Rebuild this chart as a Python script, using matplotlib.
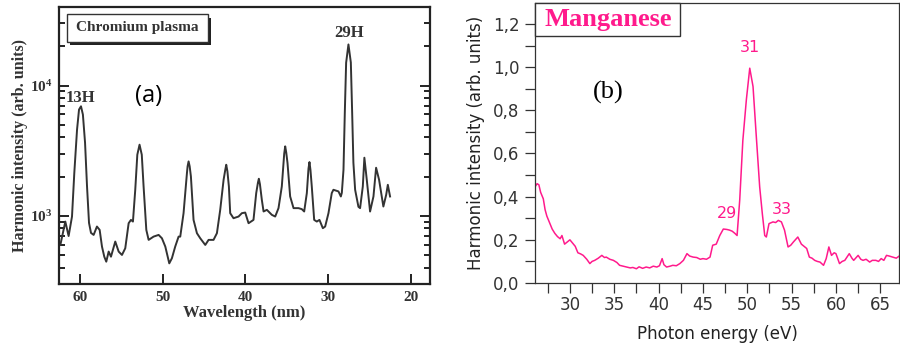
import matplotlib
matplotlib.use('Agg')
import matplotlib.pyplot as plt
from matplotlib.patches import Rectangle
from matplotlib.ticker import LogLocator, MultipleLocator, NullFormatter

plt.rcParams['mathtext.default'] = 'regular'

# (a) chromium plasma harmonic spectrum, log scale
wavelength_a = [62.41, 61.81, 61.41, 61.00, 60.72, 60.39, 60.15, 59.91, 59.68, 59.42,
                59.18, 58.94, 58.70, 58.38, 57.98, 57.65, 57.37, 57.09, 56.85, 56.56,
                56.28, 55.76, 55.35, 54.95, 54.55, 54.14, 53.86, 53.62, 53.34, 53.09,
                52.82, 52.55, 52.33, 52.00, 51.72, 51.12, 50.51, 50.11, 49.70, 49.22,
                48.90, 48.50, 48.09, 47.89, 47.49, 47.08, 47.00, 46.88, 46.75, 46.60,
                46.28, 45.87, 45.47, 44.86, 44.46, 43.86, 43.45, 43.05, 42.64, 42.44,
                42.32, 42.18, 42.00, 41.84, 41.44, 40.83, 40.43, 40.02, 39.62, 39.02,
                38.69, 38.48, 38.37, 38.24, 38.01, 37.80, 37.40, 36.80, 36.39, 35.99,
                35.59, 35.30, 35.18, 35.05, 34.90, 34.58, 34.17, 33.57, 33.17, 32.88,
                32.56, 32.36, 32.24, 32.12, 31.96, 31.67, 31.35, 31.03, 30.62, 30.34,
                29.94, 29.54, 29.34, 28.73, 28.44, 28.32, 28.12, 27.96, 27.80, 27.52,
                27.23, 27.07, 26.92, 26.71, 26.31, 26.11, 25.78, 25.59, 25.30, 24.90,
                24.49, 24.17, 23.81, 23.29, 22.95, 22.75, 22.48]
intensity_a = [598, 904, 700, 988, 2141, 4586, 6536, 6928, 5983, 3643,
               1680, 883, 740, 714, 828, 780, 581, 486, 445, 532,
               486, 635, 532, 501, 564, 878, 931, 904, 1585, 2945,
               3516, 2945, 1680, 780, 654, 693, 714, 673, 581, 432,
               473, 581, 693, 693, 1048, 2128, 2400, 2617, 2400, 2007,
               931, 736, 673, 598, 654, 654, 736, 1112, 1892, 2250,
               2467, 2200, 1681, 1048, 959, 988, 1048, 1060, 878, 931,
               1494, 1800, 1926, 1750, 1328, 1080, 1112, 1018, 988, 1146,
               1681, 3000, 3415, 3050, 2542, 1409, 1146, 1146, 1126, 1080,
               1494, 2300, 2587, 2250, 1681, 931, 904, 931, 804, 828,
               1048, 1494, 1585, 1540, 1408, 1503, 2258, 6199, 14950, 20670,
               15030, 6199, 2557, 1585, 1173, 1146, 1681, 2793, 1892, 1079,
               1409, 2340, 1892, 1179, 1450, 1731, 1408]

# (b) manganese plasma harmonic spectrum, linear scale
energy_b = [26.06, 26.3, 26.5, 26.7, 27.0, 27.2, 27.4, 27.6, 27.75, 28.0,
            28.3, 28.6, 28.9, 29.1, 29.4, 29.7, 30.0, 30.3, 30.6, 30.9,
            31.2, 31.5, 31.9, 32.25, 32.5, 32.8, 33.2, 33.6, 33.9, 34.1,
            34.5, 34.9, 35.3, 35.6, 36.0, 36.4, 36.8, 37.1, 37.5, 37.8,
            38.2, 38.6, 39.0, 39.4, 39.8, 40.1, 40.4, 40.6, 40.9, 41.3,
            41.6, 42.0, 42.4, 42.8, 43.2, 43.5, 43.9, 44.3, 44.7, 45.0,
            45.4, 45.8, 46.1, 46.5, 46.9, 47.3, 47.7, 48.0, 48.3, 48.6,
            48.85, 49.15, 49.5, 49.9, 50.28, 50.65, 51.0, 51.4, 51.7, 51.97,
            52.15, 52.45, 52.9, 53.2, 53.5, 53.85, 54.2, 54.6, 54.9, 55.2,
            55.7, 56.1, 56.4, 56.7, 57.0, 57.3, 57.6, 57.9, 58.2, 58.6,
            58.9, 59.2, 59.5, 59.8, 60.0, 60.4, 60.7, 61.0, 61.5, 61.8,
            62.0, 62.5, 62.8, 63.05, 63.4, 63.8, 64.1, 64.5, 64.8, 65.1,
            65.4, 65.7, 66.0, 66.4, 66.8, 67.1]
intensity_b = [0.445, 0.46, 0.455, 0.42, 0.39, 0.34, 0.31, 0.29, 0.275, 0.25,
               0.23, 0.215, 0.205, 0.22, 0.18, 0.19, 0.20, 0.185, 0.17, 0.14,
               0.135, 0.128, 0.11, 0.09, 0.10, 0.105, 0.115, 0.128, 0.118, 0.12,
               0.11, 0.105, 0.095, 0.082, 0.078, 0.074, 0.07, 0.072, 0.066, 0.075,
               0.068, 0.074, 0.07, 0.078, 0.074, 0.08, 0.113, 0.085, 0.074, 0.078,
               0.082, 0.08, 0.09, 0.105, 0.136, 0.125, 0.12, 0.118, 0.11, 0.113,
               0.11, 0.12, 0.175, 0.18, 0.22, 0.25, 0.248, 0.245, 0.24, 0.23,
               0.22, 0.385, 0.66, 0.85, 0.995, 0.91, 0.69, 0.445, 0.32, 0.22,
               0.213, 0.275, 0.283, 0.28, 0.29, 0.283, 0.245, 0.167, 0.175, 0.19,
               0.213, 0.18, 0.17, 0.16, 0.12, 0.115, 0.105, 0.10, 0.097, 0.082,
               0.113, 0.167, 0.128, 0.14, 0.136, 0.09, 0.1, 0.105, 0.136, 0.115,
               0.105, 0.128, 0.11, 0.105, 0.11, 0.097, 0.105, 0.105, 0.1, 0.113,
               0.105, 0.128, 0.125, 0.12, 0.115, 0.124]

harm_labels_b = ['29', '31', '33']
harm_pos_b = [(47.7, 0.32), (50.3, 1.09), (53.9, 0.34)]

pink = '#ff1a8c'
serif = 'Liberation Serif'

fig = plt.figure(figsize=(9, 3.51), dpi=100)

# ---------- panel (a) ----------
ax1 = fig.add_axes([0.0656, 0.1909, 0.4122, 0.789])
ax1.plot(wavelength_a, intensity_a, color='#333333', lw=1.4)
ax1.set_yscale('log')
ax1.set_xlim(62.57, 17.64)
ax1.set_ylim(300, 40000)
ax1.set_xticks([60, 50, 40, 30, 20])
ax1.set_xticklabels(['60', '50', '40', '30', '20'])
ax1.set_yticks([1e3, 1e4])
ax1.set_yticklabels(['10$^3$', '10$^4$'])
ax1.yaxis.set_minor_locator(LogLocator(base=10, subs=range(2, 10)))
ax1.yaxis.set_minor_formatter(NullFormatter())
for s in ax1.spines.values():
    s.set_linewidth(1.6)
    s.set_color('#222222')
ax1.tick_params(which='both', direction='in', right=True, top=False, width=1.4, color='#222222')
ax1.tick_params(which='major', length=7, pad=5)
ax1.tick_params(which='minor', length=4)
for lab in ax1.get_xticklabels() + ax1.get_yticklabels():
    lab.set_fontfamily(serif)
    lab.set_fontweight('bold')
    lab.set_fontsize(11)
    lab.set_color('#333333')
ax1.set_xlabel('Wavelength (nm)', fontfamily=serif, fontweight='bold', fontsize=12,
               color='#333333', labelpad=1)
ax1.set_ylabel('Harmonic intensity (arb. units)', fontfamily=serif, fontweight='bold',
               fontsize=11.5, color='#333333', labelpad=1)

# title box with drop shadow
ax1.add_patch(Rectangle((0.030, 0.862), 0.38, 0.1, transform=ax1.transAxes,
                        facecolor='#222222', edgecolor='none', zorder=4))
ax1.add_patch(Rectangle((0.022, 0.875), 0.38, 0.1, transform=ax1.transAxes,
                        facecolor='white', edgecolor='#333333', lw=1.0, zorder=5))
ax1.text(0.212, 0.925, 'Chromium plasma', transform=ax1.transAxes, ha='center', va='center',
         fontfamily=serif, fontweight='bold', fontsize=11, color='#333333', zorder=6)

ax1.text(60.0, 6950, '13H', ha='center', va='bottom', fontfamily=serif, fontweight='bold',
         fontsize=12, color='#333333')
ax1.text(27.5, 22000, '29H', ha='center', va='bottom', fontfamily=serif, fontweight='bold',
         fontsize=12, color='#333333')
ax1.text(0.24, 0.68, '(a)', transform=ax1.transAxes, ha='center', va='center',
         fontfamily='Open Sans', fontsize=17, color='black')

# ---------- panel (b) ----------
ax2 = fig.add_axes([0.5944, 0.1937, 0.4044, 0.7978])
ax2.plot(energy_b, intensity_b, color=pink, lw=1.1)
ax2.set_xlim(26.06, 67.1)
ax2.set_ylim(0, 1.297)
ax2.xaxis.set_major_locator(MultipleLocator(5))
ax2.xaxis.set_minor_locator(MultipleLocator(2.5))
ax2.yaxis.set_major_locator(MultipleLocator(0.2))
ax2.yaxis.set_minor_locator(MultipleLocator(0.1))
ax2.set_yticks([0.0, 0.2, 0.4, 0.6, 0.8, 1.0, 1.2])
ax2.set_yticklabels(['0,0', '0,2', '0,4', '0,6', '0,8', '1,0', '1,2'])
for s in ax2.spines.values():
    s.set_linewidth(0.9)
    s.set_color('#333333')
ax2.tick_params(which='both', direction='out', color='#333333', width=0.9,
                labelsize=12, labelcolor='#333333')
ax2.tick_params(which='major', length=7, pad=2)
ax2.tick_params(axis='y', which='major', pad=4)
ax2.tick_params(which='minor', length=7)
ax2.set_xlabel('Photon energy (eV)', fontsize=12, color='#222222', labelpad=8)
ax2.set_ylabel('Harmonic intensity (arb. units)', fontsize=12, color='#222222', labelpad=6)

ax2.add_patch(Rectangle((0.0, 0.882), 0.398, 0.118, transform=ax2.transAxes,
                        facecolor='white', edgecolor='#333333', lw=1.0, zorder=5,
                        clip_on=False))
ax2.text(0.025, 0.94, 'Manganese', transform=ax2.transAxes, ha='left', va='center',
         fontfamily=serif, fontweight='bold', fontsize=19, color=pink, zorder=6)

for lab, (x, y) in zip(harm_labels_b, harm_pos_b):
    ax2.text(x, y, lab, ha='center', va='center', fontsize=11.5, color=pink)

ax2.text(0.2, 0.68, '(b)', transform=ax2.transAxes, ha='center', va='center',
         fontfamily=serif, fontsize=19, color='black')

fig.savefig('out.png', dpi=100)
